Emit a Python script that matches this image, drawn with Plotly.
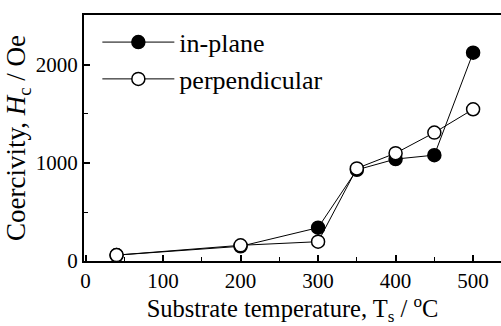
import plotly.graph_objects as go

# Substrate temperature (deg C) and coercivity (Oe)
temps = [40, 200, 300, 350, 400, 450, 500]
hc_in_plane = [60, 150, 340, 930, 1040, 1080, 2125]
hc_perpendicular = [60, 160, 197, 945, 1100, 1310, 1548]

font_family = "Liberation Serif"

fig = go.Figure()
fig.add_trace(go.Scatter(
    x=temps, y=hc_in_plane, mode="lines+markers", name="in-plane",
    line=dict(color="black", width=1),
    marker=dict(symbol="circle", size=13, color="black",
                line=dict(color="black", width=1.5)),
))
fig.add_trace(go.Scatter(
    x=temps, y=hc_perpendicular, mode="lines+markers", name="perpendicular",
    line=dict(color="black", width=1),
    marker=dict(symbol="circle", size=13, color="white",
                line=dict(color="black", width=1.5)),
))

fig.update_layout(
    width=501, height=326,
    margin=dict(l=84, r=0, t=15, b=65),
    paper_bgcolor="white", plot_bgcolor="white",
    font=dict(family=font_family, size=21, color="black"),
    showlegend=True,
    legend=dict(x=0.032, y=0.985, xanchor="left", yanchor="top",
                bgcolor="rgba(0,0,0,0)", itemwidth=72,
                font=dict(family=font_family, size=26, color="black"),
                tracegroupgap=0),
)
fig.update_xaxes(
    range=[-2, 536], showgrid=False, zeroline=False,
    showline=True, linecolor="black", linewidth=2, mirror=True,
    ticks="inside", ticklen=6, tickwidth=1.5, tickcolor="black",
    tickvals=[0, 100, 200, 300, 400, 500],
    tickfont=dict(family=font_family, size=21),
    minor=dict(ticks="inside", ticklen=4, tickwidth=1, tickcolor="black", dtick=50, tick0=0),
    title=dict(text="Substrate temperature, T<sub>s</sub> / <sup>o</sup>C",
               font=dict(family=font_family, size=24.5), standoff=8),
)
fig.update_yaxes(
    range=[0, 2510], showgrid=False, zeroline=False,
    showline=True, linecolor="black", linewidth=2,
    ticks="inside", ticklen=6, tickwidth=1.5, tickcolor="black",
    tickvals=[0, 1000, 2000],
    tickfont=dict(family=font_family, size=21),
    minor=dict(ticks="inside", ticklen=4, tickwidth=1, tickcolor="black", dtick=500, tick0=0),
    title=dict(text="Coercivity, <i>H</i><sub>c</sub> / Oe",
               font=dict(family=font_family, size=27), standoff=2),
)

fig.write_html("out.html")
